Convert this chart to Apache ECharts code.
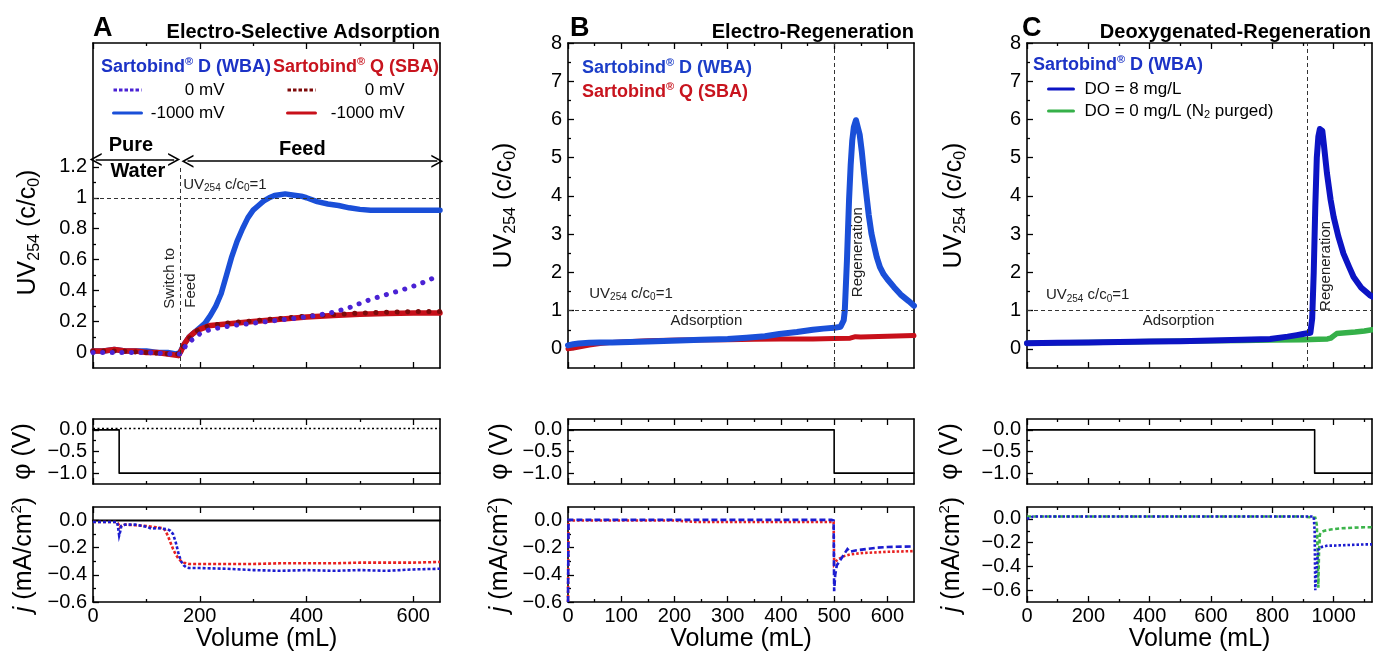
<!DOCTYPE html>
<html><head><meta charset="utf-8">
<script src="https://cdn.jsdelivr.net/npm/echarts@6/dist/echarts.min.js"></script>
<style>html,body{margin:0;padding:0;background:#fff}#c{width:1373px;height:654px}</style>
</head><body><div id="c"></div><script>
const FONT = '"Liberation Sans", Arial, sans-serif';

// ================= DATA =================
// ---- Panel A: UV254 (c/c0) vs Volume ----
const aVolWbaNeg = [0,20,40,60,80,100,120,140,155,163,170,180,190,200,210,220,230,240,250,260,270,280,290,300,310,320,330,340,350,360,370,380,390,400,420,440,460,480,500,520,550,600,650];
const aUvWbaNeg  = [0.01,0.01,0.02,0.01,0.01,0.01,0.0,0.0,-0.01,0.0,0.05,0.1,0.13,0.16,0.19,0.24,0.3,0.38,0.5,0.62,0.72,0.8,0.87,0.92,0.95,0.98,1.0,1.015,1.02,1.025,1.02,1.015,1.01,1.0,0.975,0.96,0.95,0.935,0.925,0.92,0.92,0.92,0.92];
const aVolSbaNeg = [0,20,40,60,80,100,120,140,160,165,170,180,190,200,220,250,300,350,400,450,500,550,600,650];
const aUvSbaNeg  = [0.01,0.01,0.02,0.01,0.01,0.0,0.0,-0.01,-0.02,0.01,0.05,0.1,0.13,0.15,0.175,0.185,0.2,0.215,0.23,0.24,0.248,0.252,0.255,0.255];
const aVolSba0   = [0,50,100,150,163,170,180,190,200,220,250,300,350,400,450,500,550,600,650];
const aUvSba0    = [0.01,0.01,0.0,-0.01,-0.01,0.04,0.09,0.13,0.15,0.175,0.19,0.205,0.22,0.235,0.245,0.255,0.26,0.265,0.265];
const aVolWba0   = [0,50,100,150,163,175,185,200,220,263,313,350,388,420,450,480,513,545,575,610,650];
const aUvWba0    = [0.0,0.0,0.0,-0.01,-0.01,0.05,0.08,0.12,0.15,0.175,0.195,0.21,0.225,0.24,0.26,0.29,0.335,0.37,0.4,0.44,0.5];
// potential phi (V)
const aPhiVolNeg = [0,49,49,650];
const aPhiNeg    = [0,0,-1,-1];
const aPhiVol0   = [0,650];
const aPhi0      = [0.03,0.03];
// current density j (mA/cm2)
const aJVol0  = [0,650];
const aJ0     = [0,0];
const aJVolSba = [0,20,40,45,48,50,55,60,80,100,120,130,135,140,145,150,155,160,165,170,180,200,250,300,350,400,450,500,550,600,650];
const aJSba    = [-0.01,-0.01,-0.01,-0.01,-0.03,-0.05,-0.035,-0.03,-0.035,-0.04,-0.05,-0.055,-0.07,-0.11,-0.16,-0.21,-0.25,-0.28,-0.3,-0.31,-0.32,-0.32,-0.32,-0.32,-0.315,-0.315,-0.315,-0.31,-0.31,-0.31,-0.305];
const aJVolWba = [0,20,40,45,47,49,51,53,56,60,80,100,110,120,130,140,145,150,155,160,165,170,175,180,200,250,300,350,400,450,500,550,600,650];
const aJWba    = [-0.01,-0.01,-0.01,-0.01,-0.05,-0.11,-0.08,-0.04,-0.03,-0.03,-0.03,-0.045,-0.06,-0.055,-0.06,-0.065,-0.075,-0.1,-0.16,-0.24,-0.3,-0.33,-0.345,-0.35,-0.35,-0.355,-0.365,-0.37,-0.365,-0.37,-0.365,-0.37,-0.36,-0.355];

// ---- Panel B ----
const bVolWba = [0,10,20,40,60,83,150,209,250,300,335,370,397,430,460,480,500,512,515,518,520,524,528,531,534,537,541,544,548,552,556,560,565,570,575,580,586,593,600,612,625,640,650];
const bUvWba  = [0.09,0.12,0.14,0.16,0.17,0.17,0.19,0.22,0.24,0.26,0.29,0.33,0.39,0.44,0.5,0.53,0.55,0.58,0.6,0.75,1.0,2.3,3.9,4.8,5.45,5.8,5.98,5.95,5.6,5.15,4.6,4.1,3.5,3.02,2.7,2.4,2.14,1.95,1.82,1.62,1.42,1.25,1.13];
const bVolSba = [0,10,20,40,60,83,150,209,300,350,400,460,500,530,540,550,600,650];
const bUvSba  = [0.0,0.02,0.05,0.1,0.14,0.17,0.21,0.23,0.24,0.25,0.26,0.26,0.27,0.28,0.32,0.31,0.33,0.35];
const bPhiVol = [0,500,500,650];
const bPhi    = [0,0,-1,-1];
const bJVolWba = [0,1,100,200,300,400,495,499,500,502,505,510,515,520,525,530,540,560,580,600,650];
const bJWba    = [-0.6,0.005,0.005,0.005,0.005,0.005,0.005,0.0,-0.52,-0.4,-0.33,-0.3,-0.27,-0.24,-0.21,-0.23,-0.22,-0.21,-0.2,-0.195,-0.19];
const bJVolSba = [0,1,100,200,240,300,400,499,500,503,506,510,520,530,550,600,650];
const bJSba    = [-0.6,0.0,0.0,0.0,-0.01,-0.01,-0.01,-0.01,-0.32,-0.3,-0.29,-0.28,-0.26,-0.25,-0.24,-0.23,-0.225];

// ---- Panel C ----
const cVolDo8 = [0,100,200,300,400,500,600,700,793,850,880,900,924,930,935,940,945,950,955,959,963,968,978,990,1000,1015,1032,1050,1065,1090,1119,1125];
const cUvDo8  = [0.15,0.16,0.17,0.18,0.19,0.2,0.22,0.24,0.26,0.32,0.36,0.39,0.42,0.8,2.0,3.7,5.0,5.55,5.75,5.8,5.7,5.35,4.6,3.9,3.45,2.95,2.49,2.15,1.88,1.6,1.4,1.37];
const cVolDo0 = [0,200,400,600,700,800,900,950,980,990,1000,1010,1040,1070,1100,1125];
const cUvDo0  = [0.15,0.17,0.19,0.21,0.22,0.23,0.24,0.25,0.26,0.28,0.34,0.4,0.42,0.44,0.47,0.5];
const cPhiVol = [0,938,938,1125];
const cPhi    = [0,0,-1,-1];
const cJVolDo8 = [0,20,100,300,500,700,900,935,938,940,942,945,948,950,955,960,980,1000,1050,1100,1125];
const cJDo8    = [0.0,0.02,0.02,0.02,0.02,0.02,0.02,0.02,-0.1,-0.6,-0.5,-0.4,-0.3,-0.26,-0.24,-0.235,-0.225,-0.225,-0.22,-0.215,-0.215];
const cJVolDo0 = [0,100,300,500,700,900,940,945,948,950,952,955,960,970,990,1020,1060,1100,1125];
const cJDo0    = [0.02,0.02,0.02,0.02,0.02,0.02,0.01,-0.05,-0.3,-0.58,-0.3,-0.13,-0.11,-0.1,-0.09,-0.08,-0.075,-0.07,-0.07];

// ---- axis ranges & ticks ----
const xRangeA = [0,650], xTicksA = [0,200,400,600], xMinorA = [100,300,500];
const xRangeB = [0,650], xTicksB = [0,100,200,300,400,500,600], xMinorB = [50,150,250,350,450,550];
const xRangeC = [0,1125], xTicksC = [0,200,400,600,800,1000], xMinorC = [100,300,500,700,900,1100];
const uvRangeA = [-0.1,2.0], uvTicksA = [0,0.2,0.4,0.6,0.8,1,1.2], uvMinorA = [0.1,0.3,0.5,0.7,0.9,1.1];
const uvRangeBC = [-0.5,8], uvTicksBC = [0,1,2,3,4,5,6,7,8], uvMinorBC = [0.5,1.5,2.5,3.5,4.5,5.5,6.5,7.5];
const phiRange = [-1.25,0.25], phiTicks = [0,-0.5,-1], phiMinor = [-0.25,-0.75];
const jRangeAB = [-0.6,0.1], jRangeC = [-0.7,0.1], jTicks = [0,-0.2,-0.4,-0.6], jMinor = [-0.1,-0.3,-0.5];

// ---- reference lines & annotations (data coordinates) ----
const refUv = 1;
const switchVolA = 163, switchSpanA = [-0.1,1.2];
const regenVolB = 500, regenVolC = 915;
const arrowPureA = [[5,1.247],[152,1.247]];
const arrowFeedA = [[177,1.236],[645,1.236]];

// ================= BUILD =================
const zip = (xs, ys) => xs.map((x, i) => [x, ys[i]]);
const BLACK = '#000';
const grids = [], xAxis = [], yAxis = [], series = [];
const fmtPlain = v => { const r = Math.round(v * 10) / 10; return (r < 0 ? '\u2212' : '') + Math.abs(r).toString(); };
const fmtFixed = v => (v < 0 ? '\u2212' : '') + Math.abs(v).toFixed(1);
const nameRich = {
  sub: {fontSize: 16, verticalAlign: 'bottom', lineHeight: 16, fontFamily: FONT, color: BLACK},
  sup: {fontSize: 15, verticalAlign: 'top', lineHeight: 15, fontFamily: FONT, color: BLACK},
  it: {fontSize: 25, fontStyle: 'italic', lineHeight: 30, fontFamily: FONT, color: BLACK}
};
const tickLab = {fontSize: 20, color: BLACK, fontFamily: FONT};

function panel(p) {
  const gi = grids.length;
  grids.push({left: p.left, top: p.top, width: p.width, height: p.height, show: false});
  const X = e => Object.assign({type: 'value', gridIndex: gi, min: p.x.range[0], max: p.x.range[1], splitLine: {show: false}}, e);
  const Y = e => Object.assign({type: 'value', gridIndex: gi, min: p.y.range[0], max: p.y.range[1], splitLine: {show: false}}, e);
  const line = {show: true, onZero: false, lineStyle: {color: BLACK, width: 1.6}};
  const noLine = {show: false, onZero: false};
  const tk = (vals, len) => ({show: true, inside: true, length: len, customValues: vals, lineStyle: {color: BLACK, width: 1.3}});
  const xi = xAxis.length;
  xAxis.push(X({position: 'bottom', axisLine: line, axisTick: tk(p.x.major, 6),
    axisLabel: Object.assign({show: !!p.x.labels, customValues: p.x.major, margin: 4, formatter: v => String(v)}, tickLab),
    name: p.x.labels ? 'Volume (mL)' : '', nameLocation: 'middle', nameGap: 22,
    nameTextStyle: {fontSize: 25, color: BLACK, fontFamily: FONT}}));
  xAxis.push(X({position: 'bottom', axisLine: noLine, axisTick: tk(p.x.minor, 3), axisLabel: {show: false}}));
  xAxis.push(X({position: 'top', axisLine: line, axisTick: tk(p.x.major, 6), axisLabel: {show: false}}));
  xAxis.push(X({position: 'top', axisLine: noLine, axisTick: tk(p.x.minor, 3), axisLabel: {show: false}}));
  const yi = yAxis.length;
  yAxis.push(Y({position: 'left', axisLine: line, axisTick: tk(p.y.major, 6),
    axisLabel: Object.assign({show: true, customValues: p.y.major, margin: 6, formatter: p.y.fmt}, tickLab),
    name: p.y.name, nameLocation: 'middle', nameGap: p.y.nameGap, nameRotate: 90,
    nameTextStyle: {fontSize: 25, lineHeight: 30, color: BLACK, fontFamily: FONT, rich: nameRich, padding: p.y.namePad || 0}}));
  yAxis.push(Y({position: 'left', axisLine: noLine, axisTick: tk(p.y.minor, 3), axisLabel: {show: false}}));
  yAxis.push(Y({position: 'right', axisLine: line, axisTick: {show: false}, axisLabel: {show: false}}));
  return {xi, yi};
}
function addLine(pn, name, xs, ys, color, width, type, z) {
  const dotted = Array.isArray(type) && type[0] < 1;
  const dashed = Array.isArray(type) && !dotted;
  series.push({type: 'line', name, xAxisIndex: pn.xi, yAxisIndex: pn.yi, data: zip(xs, ys),
    symbol: 'none', showSymbol: false, silent: true, z: z || 2,
    lineStyle: {color, width, type: type || 'solid', cap: dashed ? 'butt' : 'round', join: dashed ? 'miter' : 'round'}, itemStyle: {color}});
}
const annRich = {
  sub: {fontSize: 10, verticalAlign: 'bottom', lineHeight: 10, fontFamily: FONT, color: '#222'}
};
function addTexts(pn, items, markLine) {
  const s = {type: 'scatter', xAxisIndex: pn.xi, yAxisIndex: pn.yi, symbolSize: 1, silent: true, z: 5,
    itemStyle: {color: 'rgba(0,0,0,0)'},
    data: items.map(t => ({value: [t.x, t.y], label: {show: true, formatter: t.text, position: t.pos || 'inside', distance: 0,
      rotate: t.rot || 0, fontSize: t.size || 15, lineHeight: (t.size || 15) + 3, fontWeight: t.bold ? 'bold' : 'normal',
      color: t.bold ? '#000' : '#222', opacity: 1, textBorderWidth: 0, textShadowBlur: 0, fontFamily: FONT, rich: annRich}}))};
  if (markLine) s.markLine = markLine;
  series.push(s);
}
const dashRef = {silent: true, symbol: ['none', 'none'], label: {show: false}, animation: false,
  lineStyle: {type: [4, 3], color: '#333', width: 1}};
const CHEV = 'path://M0,10 L5,0 L10,10 L8.6,10 L5,2.8 L1.4,10 Z';

const colLeft = [93, 568, 1027], colW = [347, 346, 345];
const rowTop = [43, 419, 507], rowH = [325, 65, 95];
const uvName = 'UV{sub|254} (c/c{sub|0})';
const phiName = '\u03C6 (V)';
const jName = '{it|j} (mA/cm{sup|2})';

// ----- Panel A -----
const A1 = panel({left: colLeft[0], top: rowTop[0], width: colW[0], height: rowH[0],
  x: {range: xRangeA, major: xTicksA, minor: xMinorA},
  y: {range: uvRangeA, major: uvTicksA, minor: uvMinorA, fmt: fmtPlain, name: uvName, nameGap: 50, namePad: [0, 54, 0, 0]}});
const A2 = panel({left: colLeft[0], top: rowTop[1], width: colW[0], height: rowH[1],
  x: {range: xRangeA, major: xTicksA, minor: xMinorA},
  y: {range: phiRange, major: phiTicks, minor: phiMinor, fmt: fmtFixed, name: phiName, nameGap: 55}});
const A3 = panel({left: colLeft[0], top: rowTop[2], width: colW[0], height: rowH[2],
  x: {range: xRangeA, major: xTicksA, minor: xMinorA, labels: true},
  y: {range: jRangeAB, major: jTicks, minor: jMinor, fmt: fmtFixed, name: jName, nameGap: 54}});

addLine(A1, 'WBA -1000 mV', aVolWbaNeg, aUvWbaNeg, '#1a4fd8', 5.5);
addLine(A1, 'SBA -1000 mV', aVolSbaNeg, aUvSbaNeg, '#c8101a', 5.5);
addLine(A1, 'SBA 0 mV', aVolSba0, aUvSba0, '#7e0a0a', 5, [0.1, 10.5], 3);
addLine(A1, 'WBA 0 mV', aVolWba0, aUvWba0, '#4a22d4', 5, [0.1, 9.5], 4);
addTexts(A1, [
  {x: 168, y: 1.085, text: 'UV{sub|254} c/c{sub|0}=1', pos: 'right'},
  {x: 144, y: 0.48, text: 'Switch to', rot: 90},
  {x: 184, y: 0.40, text: 'Feed', rot: 90},
  {x: 71, y: 1.34, text: 'Pure', bold: true, size: 20},
  {x: 84, y: 1.17, text: 'Water', bold: true, size: 20},
  {x: 392, y: 1.31, text: 'Feed', bold: true, size: 20}
], Object.assign({}, dashRef, {data: [
  {yAxis: refUv},
  [{coord: [switchVolA, switchSpanA[0]]}, {coord: [switchVolA, switchSpanA[1]]}]
]}));
addTexts(A1, [], {silent: true, animation: false, label: {show: false}, symbol: [CHEV, CHEV], symbolSize: [13, 12],
  lineStyle: {type: 'solid', color: '#000', width: 1.5},
  data: [[{coord: arrowPureA[0]}, {coord: arrowPureA[1]}], [{coord: arrowFeedA[0]}, {coord: arrowFeedA[1]}]]});

addLine(A2, 'phi A -1000', aPhiVolNeg, aPhiNeg, '#000', 1.6);
addLine(A2, 'phi A 0', aPhiVol0, aPhi0, '#000', 1.6, [2, 2.5]);
addLine(A3, 'j A 0', aJVol0, aJ0, '#000', 2);
addLine(A3, 'j A SBA', aJVolSba, aJSba, '#e82020', 2.6, [3, 2]);
addLine(A3, 'j A WBA', aJVolWba, aJWba, '#1c1cd0', 2.6, [3, 2]);

// ----- Panel B -----
const B1 = panel({left: colLeft[1], top: rowTop[0], width: colW[1], height: rowH[0],
  x: {range: xRangeB, major: xTicksB, minor: xMinorB},
  y: {range: uvRangeBC, major: uvTicksBC, minor: uvMinorBC, fmt: v => String(v), name: uvName, nameGap: 49}});
const B2 = panel({left: colLeft[1], top: rowTop[1], width: colW[1], height: rowH[1],
  x: {range: xRangeB, major: xTicksB, minor: xMinorB},
  y: {range: phiRange, major: phiTicks, minor: phiMinor, fmt: fmtFixed, name: phiName, nameGap: 53}});
const B3 = panel({left: colLeft[1], top: rowTop[2], width: colW[1], height: rowH[2],
  x: {range: xRangeB, major: xTicksB, minor: xMinorB, labels: true},
  y: {range: jRangeAB, major: jTicks, minor: jMinor, fmt: fmtFixed, name: jName, nameGap: 53}});
addLine(B1, 'Sartobind Q (SBA)', bVolSba, bUvSba, '#c8101a', 5);
addLine(B1, 'Sartobind D (WBA)', bVolWba, bUvWba, '#1a4fd8', 6, 'solid', 3);
addTexts(B1, [
  {x: 39, y: 1.45, text: 'UV{sub|254} c/c{sub|0}=1', pos: 'right'},
  {x: 260, y: 0.74, text: 'Adsorption'},
  {x: 545, y: 2.53, text: 'Regeneration', rot: 90}
], Object.assign({}, dashRef, {data: [{yAxis: refUv}, {xAxis: regenVolB}]}));
addLine(B2, 'phi B', bPhiVol, bPhi, '#000', 1.6);
addLine(B3, 'j B SBA', bJVolSba, bJSba, '#e82020', 2.6, [2.5, 2]);
addLine(B3, 'j B WBA', bJVolWba, bJWba, '#1c1cd0', 2.6, [6, 3]);

// ----- Panel C -----
const C1 = panel({left: colLeft[2], top: rowTop[0], width: colW[2], height: rowH[0],
  x: {range: xRangeC, major: xTicksC, minor: xMinorC},
  y: {range: uvRangeBC, major: uvTicksBC, minor: uvMinorBC, fmt: v => String(v), name: uvName, nameGap: 58}});
const C2 = panel({left: colLeft[2], top: rowTop[1], width: colW[2], height: rowH[1],
  x: {range: xRangeC, major: xTicksC, minor: xMinorC},
  y: {range: phiRange, major: phiTicks, minor: phiMinor, fmt: fmtFixed, name: phiName, nameGap: 62}});
const C3 = panel({left: colLeft[2], top: rowTop[2], width: colW[2], height: rowH[2],
  x: {range: xRangeC, major: xTicksC, minor: xMinorC, labels: true},
  y: {range: jRangeC, major: jTicks, minor: jMinor, fmt: fmtFixed, name: jName, nameGap: 60}});
addLine(C1, 'DO = 0 mg/L (N2 purged)', cVolDo0, cUvDo0, '#35b049', 5.5);
addLine(C1, 'DO = 8 mg/L', cVolDo8, cUvDo8, '#0c14c4', 6, 'solid', 3);
addTexts(C1, [
  {x: 60, y: 1.4, text: 'UV{sub|254} c/c{sub|0}=1', pos: 'right'},
  {x: 494, y: 0.72, text: 'Adsorption'},
  {x: 973, y: 2.17, text: 'Regeneration', rot: 90}
], Object.assign({}, dashRef, {data: [{yAxis: refUv}, {xAxis: regenVolC}]}));
addLine(C2, 'phi C', cPhiVol, cPhi, '#000', 1.6);
addLine(C3, 'j C DO0', cJVolDo0, cJDo0, '#3cb44b', 2.6, [4, 2.5]);
addLine(C3, 'j C DO8', cJVolDo8, cJDo8, '#1c1cd0', 2.6, [2.5, 2]);

// ================= LEGENDS / TITLES =================
const legText = {fontSize: 17, color: BLACK, fontFamily: FONT, lineHeight: 18};
const legendLabel = {'WBA 0 mV': '0 mV', 'WBA -1000 mV': '-1000 mV', 'SBA 0 mV': '0 mV', 'SBA -1000 mV': '-1000 mV'};
const hideSym = {opacity: 0};
const legends = [
  {data: [{name: 'WBA 0 mV', lineStyle: {type: [3.5, 2], width: 3, cap: 'butt'}, itemStyle: hideSym},
          {name: 'WBA -1000 mV', lineStyle: {width: 3}, itemStyle: hideSym}],
    left: 107, top: 76, orient: 'vertical', itemWidth: 28, itemHeight: 14, itemGap: 5, selectedMode: false,
    itemStyle: hideSym,
    formatter: n => '{r|' + legendLabel[n] + '}', textStyle: Object.assign({rich: {r: Object.assign({width: 78, align: 'right'}, legText)}}, legText)},
  {data: [{name: 'SBA 0 mV', lineStyle: {type: [3.5, 2], width: 3, cap: 'butt'}, itemStyle: hideSym},
          {name: 'SBA -1000 mV', lineStyle: {width: 3}, itemStyle: hideSym}],
    left: 281, top: 76, orient: 'vertical', itemWidth: 28, itemHeight: 14, itemGap: 5, selectedMode: false,
    itemStyle: hideSym,
    formatter: n => '{r|' + legendLabel[n] + '}', textStyle: Object.assign({rich: {r: Object.assign({width: 84, align: 'right'}, legText)}}, legText)},
  {data: [{name: 'DO = 8 mg/L', lineStyle: {width: 3}, itemStyle: hideSym},
          {name: 'DO = 0 mg/L (N2 purged)', lineStyle: {width: 3}, itemStyle: hideSym}],
    left: 1042, top: 75, orient: 'vertical', itemWidth: 25, itemHeight: 14, itemGap: 4, selectedMode: false,
    itemStyle: hideSym,
    formatter: n => n === 'DO = 8 mg/L' ? '{t|DO = 8 mg/L}' : '{t|DO = 0 mg/L (N}{s|2}{u| purged)}',
    textStyle: Object.assign({rich: {
      t: Object.assign({padding: [0, 0, 0, 6]}, legText),
      s: {fontSize: 11, verticalAlign: 'bottom', lineHeight: 11, color: BLACK, fontFamily: FONT},
      u: Object.assign({}, legText)}}, legText)}
];
function header(x, y, label, color) {
  return {type: 'text', x, y, silent: true, z: 10, style: {
    text: '{b|Sartobind}{s|\u00AE}{b| ' + label + '}', verticalAlign: 'middle', align: 'left',
    rich: {b: {fontSize: 18, fontWeight: 'bold', fill: color, fontFamily: FONT, lineHeight: 22},
           s: {fontSize: 11, fontWeight: 'bold', fill: color, fontFamily: FONT, verticalAlign: 'top', lineHeight: 12}}}};
}
function ttl(x, y, text, size, align) {
  return {type: 'text', x, y, silent: true, z: 10, style: {text, fill: '#000', font: 'bold ' + size + 'px ' + FONT,
    verticalAlign: 'middle', align: align || 'left'}};
}
const graphic = [
  ttl(93, 29, 'A', 27), ttl(440, 32, 'Electro-Selective Adsorption', 20, 'right'),
  ttl(570, 29, 'B', 27), ttl(914, 32, 'Electro-Regeneration', 20, 'right'),
  ttl(1022, 29, 'C', 27), ttl(1371, 32, 'Deoxygenated-Regeneration', 20, 'right'),
  header(101, 67, 'D (WBA)', '#1c33c6'), header(273, 67, 'Q (SBA)', '#c8141e'),
  header(582, 68, 'D (WBA)', '#1c3ec8'), header(582, 92, 'Q (SBA)', '#c8141e'),
  header(1033, 65, 'D (WBA)', '#1c33c6')
];

const chart = echarts.init(document.getElementById('c'), null, {renderer: 'canvas'});
chart.setOption({animation: false, backgroundColor: '#fff', textStyle: {fontFamily: FONT},
  grid: grids, xAxis, yAxis, series, legend: legends, graphic});
</script></body></html>
